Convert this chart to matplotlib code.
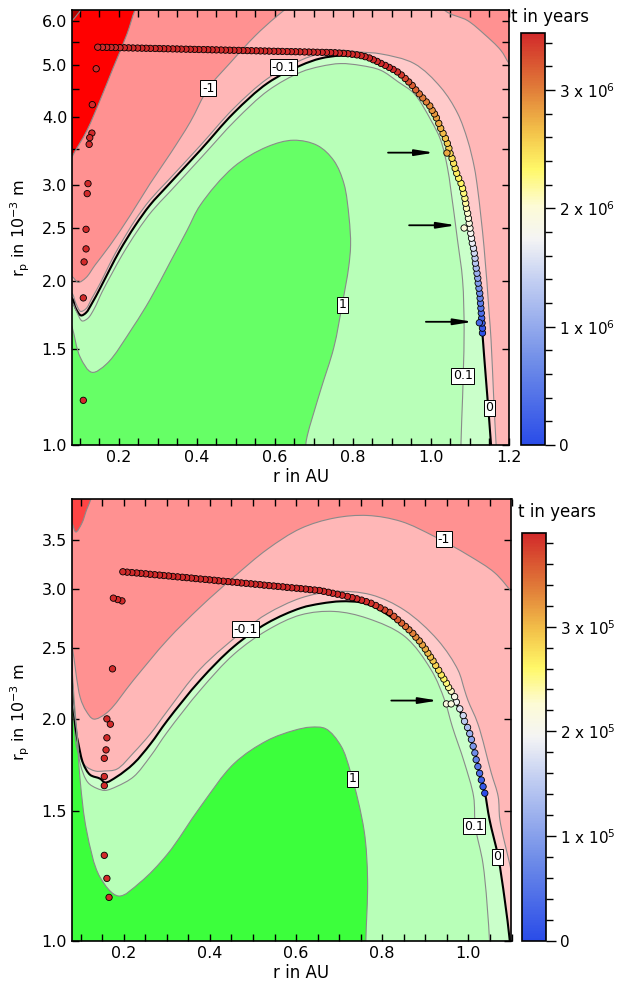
import numpy as np
import matplotlib
matplotlib.use("Agg")
import matplotlib.pyplot as plt
from matplotlib.colors import LinearSegmentedColormap, Normalize
from matplotlib.ticker import FixedLocator, MultipleLocator, NullLocator, FixedFormatter
from matplotlib.path import Path
from matplotlib.patches import PathPatch
import matplotlib.cm as cm

plt.rcParams['font.family'] = ['DejaVu Sans']
plt.rcParams['mathtext.default'] = 'regular'

# ======================= DATA: top panel =======================
top_xlim = (0.08, 1.2)
top_ylim = (1.0, 6.31)
top_tmax = 3.482e6

# contour lines (r in AU, rp in 1e-3 m)
top_cm100_r = [0.062, 0.080, 0.103, 0.113]
top_cm100_rp = [5.90, 6.02, 6.31, 6.54]
top_cm10_r = [0.062, 0.080, 0.118, 0.152, 0.186, 0.221, 0.242, 0.268]
top_cm10_rp = [3.13, 3.38, 3.78, 4.30, 4.94, 5.69, 6.31, 6.84]
top_cm1_r = [0.065, 0.080, 0.096, 0.116, 0.139, 0.178, 0.229, 0.280, 0.332, 0.383, 0.429, 0.486, 0.550,
             0.601, 0.640, 0.691, 0.871, 1.000, 1.033, 1.094, 1.136, 1.179, 1.200, 1.231]
top_cm1_rp = [2.06, 2.04, 1.99, 2.03, 2.14, 2.33, 2.64, 3.02, 3.43, 3.92, 4.52, 5.04, 5.65,
              6.10, 6.42, 6.84, 7.76, 7.20, 6.31, 6.02, 5.69, 5.31, 5.02, 4.67]
top_cm01_r = [0.070, 0.080, 0.090, 0.102, 0.116, 0.131, 0.152, 0.178, 0.203, 0.242, 0.280, 0.324, 0.409,
              0.494, 0.581, 0.666, 0.717, 0.768, 0.820, 0.871, 0.957, 1.025, 1.068, 1.094, 1.111, 1.120,
              1.136, 1.149, 1.154, 1.161, 1.167, 1.169]
top_cm01_rp = [1.91, 1.90, 1.82, 1.76, 1.78, 1.86, 1.98, 2.16, 2.33, 2.59, 2.82, 3.05, 3.55,
               4.15, 4.71, 5.09, 5.24, 5.31, 5.27, 5.23, 5.02, 4.54, 4.07, 3.63, 3.24, 2.94,
               2.31, 1.75, 1.56, 1.21, 1.00, 0.94]
top_c0_r = [0.070, 0.080, 0.090, 0.103, 0.116, 0.131, 0.152, 0.178, 0.203, 0.242, 0.280, 0.324, 0.409,
            0.494, 0.581, 0.666, 0.717, 0.768, 0.820, 0.871, 0.923, 0.974, 1.017, 1.042, 1.059, 1.077,
            1.094, 1.111, 1.126, 1.132, 1.141, 1.154, 1.156]
top_c0_rp = [1.88, 1.86, 1.78, 1.73, 1.75, 1.82, 1.94, 2.11, 2.28, 2.53, 2.76, 2.99, 3.48,
             4.07, 4.62, 4.98, 5.13, 5.19, 5.16, 5.03, 4.79, 4.39, 3.95, 3.58, 3.26, 3.04,
             2.66, 2.25, 1.87, 1.60, 1.32, 1.00, 0.94]
top_cp01_r = [0.070, 0.080, 0.093, 0.106, 0.121, 0.137, 0.157, 0.183, 0.208, 0.247, 0.285, 0.329, 0.414,
              0.499, 0.583, 0.666, 0.717, 0.768, 0.820, 0.871, 0.917, 0.957, 1.000, 1.025, 1.042, 1.051,
              1.068, 1.081, 1.085, 1.083, 1.081, 1.077, 1.077]
top_cp01_rp = [1.85, 1.83, 1.75, 1.69, 1.71, 1.78, 1.91, 2.07, 2.23, 2.47, 2.69, 2.91, 3.39,
               3.95, 4.48, 4.84, 4.96, 5.02, 4.98, 4.88, 4.64, 4.42, 3.95, 3.63, 3.24, 2.94,
               2.38, 2.01, 1.63, 1.37, 1.22, 1.01, 0.94]
top_c1_r = [0.065, 0.080, 0.101, 0.131, 0.169, 0.237, 0.280, 0.332, 0.375, 0.409, 0.494, 0.580, 0.648,
            0.709, 0.751, 0.777, 0.790, 0.794, 0.789, 0.773, 0.751, 0.717, 0.683, 0.679, 0.676]
top_c1_rp = [1.77, 1.65, 1.45, 1.36, 1.41, 1.65, 1.85, 2.17, 2.48, 2.76, 3.24, 3.53, 3.63,
             3.55, 3.33, 3.02, 2.62, 2.33, 2.12, 1.82, 1.51, 1.26, 1.04, 1.00, 0.94]

top_label_text = ['-1', '-0.1', '1', '0.1', '0']
top_label_r = [0.429, 0.622, 0.774, 1.081, 1.149]
top_label_rp = [4.52, 4.94, 1.81, 1.34, 1.17]

# trajectory (t in years)
top_right_r = [1.132, 1.132, 1.131, 1.130, 1.129, 1.128, 1.127, 1.126, 1.125, 1.123, 1.121, 1.120, 1.118,
               1.116, 1.114, 1.113, 1.111, 1.109, 1.106, 1.104, 1.102, 1.100, 1.098, 1.096, 1.094, 1.091,
               1.089, 1.087, 1.084, 1.081, 1.077, 1.071, 1.066, 1.062, 1.058, 1.054, 1.049, 1.046, 1.042,
               1.037, 1.031, 1.025, 1.020,
               1.014, 1.009, 1.003, 0.997, 0.988, 0.979, 0.970, 0.961, 0.952, 0.943, 0.934, 0.924, 0.914,
               0.903, 0.893, 0.883, 0.872, 0.862, 0.852, 0.842, 0.831, 0.821, 0.810, 0.798, 0.787, 0.776,
               0.765, 0.754, 0.743]
top_right_rp = [1.606, 1.639, 1.675, 1.710, 1.747, 1.784, 1.822, 1.861, 1.900, 1.941, 1.983, 2.025, 2.068,
                2.113, 2.158, 2.204, 2.251, 2.299, 2.348, 2.398, 2.449, 2.502, 2.555, 2.609, 2.665, 2.722,
                2.780, 2.839, 2.900, 2.962, 3.025, 3.090, 3.156, 3.223, 3.292, 3.362, 3.434, 3.508, 3.582,
                3.659, 3.737, 3.816, 3.898,
                3.990, 4.058, 4.119, 4.197, 4.268, 4.341, 4.416, 4.491, 4.577, 4.645, 4.713, 4.784, 4.845,
                4.897, 4.939, 4.981, 5.023, 5.066, 5.102, 5.140, 5.169, 5.191, 5.208, 5.222, 5.233, 5.241,
                5.248, 5.255, 5.259]
top_right_t = [0.05e6, 0.13e6, 0.20e6, 0.28e6, 0.36e6, 0.43e6, 0.51e6, 0.59e6, 0.66e6, 0.75e6, 0.86e6,
               0.97e6, 1.08e6, 1.19e6, 1.30e6, 1.39e6, 1.47e6, 1.56e6, 1.65e6, 1.73e6, 1.79e6, 1.86e6,
               1.92e6, 1.99e6, 2.05e6, 2.11e6, 2.18e6, 2.24e6, 2.28e6, 2.31e6, 2.34e6, 2.37e6, 2.40e6,
               2.43e6, 2.45e6, 2.48e6, 2.52e6, 2.56e6, 2.60e6, 2.65e6, 2.69e6, 2.73e6, 2.78e6,
               2.82e6, 2.86e6, 2.88e6, 2.93e6, 2.98e6, 3.03e6, 3.08e6, 3.13e6, 3.19e6, 3.27e6, 3.33e6,
               3.39e6, 3.44e6, 3.47e6, 3.48e6, 3.48e6, 3.48e6, 3.48e6, 3.48e6, 3.48e6, 3.48e6, 3.48e6,
               3.48e6, 3.48e6, 3.48e6, 3.48e6, 3.48e6, 3.48e6, 3.48e6]
top_upper_r = [0.732, 0.721, 0.709, 0.698, 0.687, 0.676, 0.664, 0.653, 0.642, 0.631, 0.619, 0.608, 0.597,
               0.585, 0.574, 0.563, 0.552, 0.540, 0.529, 0.518, 0.507, 0.495, 0.484, 0.473, 0.462, 0.450,
               0.439, 0.428, 0.417, 0.405, 0.394, 0.383, 0.372, 0.360, 0.349, 0.338, 0.326, 0.315, 0.304,
               0.293, 0.281, 0.270, 0.259, 0.248, 0.236, 0.225, 0.214, 0.203, 0.191, 0.180, 0.169, 0.158,
               0.146]
top_upper_rp = [5.262, 5.264, 5.266, 5.269, 5.271, 5.273, 5.276, 5.278, 5.280, 5.282, 5.285, 5.287, 5.289,
                5.292, 5.294, 5.296, 5.298, 5.301, 5.303, 5.305, 5.308, 5.310, 5.312, 5.314, 5.317, 5.319,
                5.321, 5.324, 5.326, 5.328, 5.330, 5.333, 5.335, 5.337, 5.340, 5.342, 5.344, 5.346, 5.349,
                5.351, 5.353, 5.356, 5.358, 5.360, 5.362, 5.365, 5.367, 5.369, 5.372, 5.374, 5.376, 5.378,
                5.380]
top_left_r = [0.142, 0.132, 0.131, 0.1255, 0.124, 0.121, 0.119, 0.116, 0.116, 0.111, 0.109, 0.109]
top_left_rp = [4.911, 4.219, 3.741, 3.669, 3.567, 3.021, 2.896, 2.490, 2.292, 2.169, 1.863, 1.208]
top_saturated_t = 3.48e6

top_mark_r = [1.041, 1.085, 1.124]
top_mark_rp = [3.438, 2.504, 1.677]
top_mark_t = [2.80e6, 1.98e6, 0.30e6]

top_arrow_r0 = [0.890, 0.944, 0.987]
top_arrow_r1 = [1.008, 1.064, 1.107]
top_arrow_rp = [3.444, 2.533, 1.684]

# ======================= DATA: bottom panel =======================
bot_xlim = (0.08, 1.1)
bot_ylim = (1.0, 3.98)
bot_tmax = 3.895e5

bot_cm10_r = [0.070, 0.080, 0.089, 0.103, 0.114, 0.124, 0.129]
bot_cm10_rp = [3.75, 3.69, 3.59, 3.69, 3.85, 3.98, 4.10]
bot_cm1_r = [0.075, 0.080, 0.099, 0.113, 0.130, 0.161, 0.223, 0.301, 0.378, 0.456, 0.533, 0.611, 0.689,
             0.766, 0.844, 0.921, 0.999, 1.061, 1.104, 1.123]
bot_cm1_rp = [2.56, 2.51, 2.14, 2.05, 2.00, 2.04, 2.26, 2.56, 2.84, 3.12, 3.40, 3.63, 3.75,
              3.78, 3.71, 3.54, 3.34, 3.16, 2.96, 2.88]
bot_cm01_r = [0.075, 0.080, 0.085, 0.092, 0.110, 0.134, 0.155, 0.184, 0.223, 0.262, 0.301, 0.378, 0.483,
              0.533, 0.611, 0.688, 0.774, 0.852, 0.929, 0.976, 0.991, 0.999, 1.022, 1.053, 1.069, 1.073,
              1.096, 1.104, 1.123]
bot_cm01_rp = [2.48, 2.19, 1.97, 1.82, 1.73, 1.70, 1.70, 1.71, 1.80, 1.91, 2.05, 2.34, 2.65,
               2.78, 2.92, 2.98, 2.95, 2.81, 2.56, 2.33, 2.19, 2.12, 1.97, 1.69, 1.57, 1.46,
               1.27, 1.21, 1.14]
bot_c0_r = [0.078, 0.082, 0.089, 0.095, 0.106, 0.122, 0.145, 0.157, 0.184, 0.223, 0.262, 0.301, 0.378,
            0.456, 0.533, 0.611, 0.658, 0.704, 0.751, 0.781, 0.813, 0.844, 0.867, 0.890, 0.921, 0.949,
            0.972, 0.998, 1.015, 1.030, 1.038, 1.049, 1.069, 1.084, 1.096, 1.100]
bot_c0_rp = [2.41, 2.12, 1.93, 1.85, 1.74, 1.68, 1.66, 1.64, 1.67, 1.74, 1.85, 1.99, 2.26,
             2.51, 2.70, 2.83, 2.87, 2.89, 2.88, 2.84, 2.77, 2.69, 2.63, 2.54, 2.38, 2.24,
             2.10, 1.94, 1.80, 1.65, 1.59, 1.46, 1.30, 1.14, 1.00, 0.94]
bot_cp01_r = [0.078, 0.082, 0.091, 0.099, 0.117, 0.138, 0.157, 0.184, 0.223, 0.262, 0.301, 0.378, 0.456,
              0.533, 0.611, 0.689, 0.766, 0.852, 0.914, 0.945, 0.963, 0.990, 1.012, 1.016, 1.034, 1.049,
              1.050]
bot_cp01_rp = [2.48, 2.12, 1.93, 1.74, 1.64, 1.61, 1.60, 1.62, 1.67, 1.78, 1.92, 2.19, 2.45,
               2.64, 2.77, 2.80, 2.74, 2.59, 2.33, 2.12, 1.95, 1.75, 1.57, 1.43, 1.27, 1.00,
               0.94]
bot_c1_r = [0.078, 0.085, 0.091, 0.099, 0.114, 0.145, 0.188, 0.238, 0.301, 0.378, 0.456, 0.533, 0.595,
            0.634, 0.669, 0.704, 0.727, 0.758, 0.766, 0.762, 0.762]
bot_c1_rp = [2.48, 2.12, 1.93, 1.65, 1.41, 1.22, 1.15, 1.20, 1.31, 1.52, 1.74, 1.87, 1.93,
             1.95, 1.94, 1.84, 1.69, 1.41, 1.21, 1.00, 0.94]

bot_label_text = ['-0.1', '-1', '1', '0.1', '0']
bot_label_r = [0.483, 0.943, 0.731, 1.013, 1.067]
bot_label_rp = [2.65, 3.51, 1.66, 1.43, 1.30]

bot_right_r = [1.038, 1.034, 1.030, 1.026, 1.022, 1.018, 1.015, 1.011, 1.007, 1.003, 0.998, 0.991, 0.988,
               0.980, 0.972, 0.968, 0.960,
               0.954, 0.949, 0.943, 0.937, 0.931, 0.924, 0.918, 0.912, 0.906, 0.900, 0.893, 0.886, 0.878,
               0.871, 0.862, 0.854, 0.845, 0.836, 0.827, 0.817, 0.806, 0.795, 0.785, 0.774, 0.763, 0.752,
               0.741, 0.730, 0.719, 0.707]
bot_right_rp = [1.586, 1.619, 1.653, 1.688, 1.724, 1.761, 1.799, 1.837, 1.876, 1.911, 1.948, 1.986, 2.022,
                2.065, 2.109, 2.145, 2.182,
                2.208, 2.237, 2.267, 2.296, 2.330, 2.365, 2.399, 2.428, 2.458, 2.490, 2.522, 2.554, 2.584,
                2.615, 2.644, 2.672, 2.700, 2.728, 2.758, 2.792, 2.812, 2.832, 2.853, 2.873, 2.887, 2.901,
                2.913, 2.924, 2.935, 2.946]
bot_right_t = [0.02e5, 0.14e5, 0.27e5, 0.40e5, 0.52e5, 0.65e5, 0.78e5, 0.90e5, 1.05e5, 1.20e5, 1.35e5,
               1.50e5, 1.65e5, 1.80e5, 1.95e5, 2.10e5, 2.30e5,
               2.45e5, 2.55e5, 2.62e5, 2.70e5, 2.78e5, 2.85e5, 2.92e5, 2.98e5, 3.04e5, 3.10e5, 3.16e5,
               3.22e5, 3.28e5, 3.34e5, 3.40e5, 3.46e5, 3.52e5, 3.57e5, 3.62e5, 3.67e5, 3.72e5, 3.76e5,
               3.80e5, 3.84e5, 3.87e5, 3.89e5, 3.89e5, 3.89e5, 3.89e5, 3.89e5]
bot_upper_r = [0.696, 0.685, 0.675, 0.664, 0.654, 0.643, 0.632, 0.622, 0.611, 0.601, 0.590, 0.579, 0.569,
               0.558, 0.548, 0.537, 0.526, 0.516, 0.505, 0.495, 0.484, 0.473, 0.463, 0.452, 0.442, 0.431,
               0.420, 0.410, 0.399, 0.389, 0.378, 0.367, 0.357, 0.346, 0.336, 0.325, 0.314, 0.304, 0.293,
               0.283, 0.272, 0.261, 0.251, 0.240, 0.230, 0.219, 0.208, 0.198]
bot_upper_rp = [2.955, 2.964, 2.973, 2.982, 2.990, 2.994, 2.998, 3.003, 3.007, 3.011, 3.015, 3.019, 3.024,
                3.028, 3.032, 3.036, 3.040, 3.045, 3.049, 3.053, 3.057, 3.061, 3.066, 3.070, 3.074, 3.078,
                3.082, 3.087, 3.091, 3.095, 3.099, 3.103, 3.108, 3.112, 3.116, 3.120, 3.124, 3.129, 3.133,
                3.137, 3.141, 3.145, 3.150, 3.154, 3.158, 3.162, 3.166, 3.170]
bot_left_r = [0.196, 0.186, 0.176, 0.174, 0.161, 0.169, 0.161, 0.159, 0.155, 0.155, 0.155, 0.155, 0.161, 0.166]
bot_left_rp = [2.894, 2.906, 2.919, 2.340, 2.001, 1.968, 1.886, 1.816, 1.769, 1.671, 1.624, 1.306, 1.215, 1.145]
bot_saturated_t = 3.89e5

bot_mark_r = [0.949, 0.960]
bot_mark_rp = [2.097, 2.097]
bot_mark_t = [2.15e5, 2.15e5]

bot_arrow_r0 = [0.821]
bot_arrow_r1 = [0.929]
bot_arrow_rp = [2.119]

# ======================= STYLE =======================
cmap = LinearSegmentedColormap.from_list('tcmap', [
    (0.00, '#2a4ce8'), (0.20, '#6f8de8'), (0.40, '#c3cff2'), (0.50, '#f4f4f4'),
    (0.58, '#fdfbd6'), (0.67, '#fff868'), (0.76, '#f3c34a'), (0.87, '#e07a38'), (1.00, '#d22a2a')])

GRAY = '#8a8a8a'


def smooth_curve(ax, r, rp):
    """Centripetal Catmull-Rom through the read nodes, as cubic Bezier segments (display space)."""
    P = ax.transData.transform(np.column_stack([r, rp]).astype(float))
    ext = np.vstack([2 * P[0] - P[1], P, 2 * P[-1] - P[-2]])
    verts = [P[0]]
    codes = [Path.MOVETO]
    for i in range(len(P) - 1):
        p0, p1, p2, p3 = ext[i], ext[i + 1], ext[i + 2], ext[i + 3]
        d1 = max(np.hypot(*(p1 - p0)), 1e-6) ** 0.5
        d2 = max(np.hypot(*(p2 - p1)), 1e-6) ** 0.5
        d3 = max(np.hypot(*(p3 - p2)), 1e-6) ** 0.5
        b1 = (d1 ** 2 * p2 - d2 ** 2 * p0 + (2 * d1 ** 2 + 3 * d1 * d2 + d2 ** 2) * p1) / (3 * d1 * (d1 + d2))
        b2 = (d3 ** 2 * p1 - d2 ** 2 * p3 + (2 * d3 ** 2 + 3 * d3 * d2 + d2 ** 2) * p2) / (3 * d3 * (d3 + d2))
        verts += [b1, b2, p2]
        codes += [Path.CURVE4] * 3
    data = ax.transData.inverted().transform(np.array(verts))
    return data, codes


def draw_panel(ax, contours, labels, tracks, marks, arrows, xlim, ylim, face):
    ax.set_yscale('log')
    ax.set_xlim(*xlim)
    ax.set_ylim(*ylim)
    ax.set_autoscale_on(False)
    ax.set_facecolor(face)
    curves = []
    for r, rp, mode, fc, lc, lw in contours:
        data, codes = smooth_curve(ax, r, rp)
        curves.append((data, codes, lc, lw))
        if mode == 'below':
            close = [(r[-1], 0.5), (0.0, 0.5), (0.0, rp[0])]
        else:
            close = [(2.0, rp[-1]), (2.0, 0.5), (0.0, 0.5), (0.0, rp[0])]
        v = np.vstack([data, np.array(close), data[:1]])
        c = codes + [Path.LINETO] * len(close) + [Path.CLOSEPOLY]
        ax.add_patch(PathPatch(Path(v, c), facecolor=fc, edgecolor='none', lw=0, zorder=1))
    for data, codes, lc, lw in curves:
        ax.add_patch(PathPatch(Path(data, codes), facecolor='none', edgecolor=lc, lw=lw, zorder=2))
    for txt, r, rp in zip(*labels):
        ax.text(r, rp, txt, fontsize=9, ha='center', va='center', zorder=3,
                bbox=dict(boxstyle='square,pad=0.12', fc='white', ec='black', lw=0.7))
    for r, rp, t, norm in tracks:
        ax.scatter(r, rp, c=t, cmap=cmap, norm=norm, s=21, edgecolors='black',
                   linewidths=0.6, zorder=4)
    for r, rp, t, norm in marks:
        ax.scatter(r, rp, c=t, cmap=cmap, norm=norm, s=21, edgecolors='black',
                   linewidths=0.6, zorder=5)
    for r0, r1, rp in zip(*arrows):
        ax.annotate('', xy=(r1, rp), xytext=(r0, rp), zorder=6,
                    arrowprops=dict(arrowstyle='-|>,head_length=0.8,head_width=0.13',
                                    color='black', lw=1.3, mutation_scale=14,
                                    shrinkA=0, shrinkB=0))
    ax.set_xlim(*xlim)
    ax.set_ylim(*ylim)
    ax.xaxis.set_major_locator(MultipleLocator(0.2))
    ax.xaxis.set_minor_locator(MultipleLocator(0.05))
    ax.tick_params(which='both', direction='in', top=True, right=True, length=5, width=1,
                   labelsize=11.5)
    ax.tick_params(axis='y', which='minor', length=0)
    for s in ax.spines.values():
        s.set_linewidth(1.2)


fig = plt.figure(figsize=(6.22, 9.85), dpi=100)

# ---------- top ----------
ax1 = fig.add_axes([72 / 622, 1 - 445 / 985, 437 / 622, 435.5 / 985])
norm1 = Normalize(0, top_tmax)
top_contours = [
    (top_cm100_r, top_cm100_rp, 'right', '#ff0000', GRAY, 0.8),
    (top_cm10_r, top_cm10_rp, 'right', '#ff9191', GRAY, 0.8),
    (top_cm1_r, top_cm1_rp, 'below', '#ffb7b7', GRAY, 0.8),
    (top_cm01_r, top_cm01_rp, 'below', '#ffcaca', GRAY, 0.8),
    (top_c0_r, top_c0_rp, 'below', '#caffca', 'black', 1.5),
    (top_cp01_r, top_cp01_rp, 'below', '#b8ffb8', GRAY, 0.8),
    (top_c1_r, top_c1_rp, 'below', '#66ff66', GRAY, 0.8),
]
top_tracks = [
    (top_right_r, top_right_rp, top_right_t, norm1),
    (top_upper_r, top_upper_rp, [top_saturated_t] * len(top_upper_r), norm1),
    (top_left_r, top_left_rp, [top_saturated_t] * len(top_left_r), norm1),
]
draw_panel(ax1, top_contours, (top_label_text, top_label_r, top_label_rp), top_tracks,
           [(top_mark_r, top_mark_rp, top_mark_t, norm1)],
           (top_arrow_r0, top_arrow_r1, top_arrow_rp), top_xlim, top_ylim, '#b00000')
top_yt = [1.0, 1.5, 2.0, 2.5, 3.0, 3.5, 4.0, 4.5, 5.0, 5.5, 6.0]
top_ytl = ['1.0', '1.5', '2.0', '2.5', '3.0', '', '4.0', '', '5.0', '', '6.0']
ax1.yaxis.set_major_locator(FixedLocator(top_yt))
ax1.yaxis.set_major_formatter(FixedFormatter(top_ytl))
ax1.yaxis.set_minor_locator(NullLocator())

# ---------- bottom ----------
ax2 = fig.add_axes([72 / 622, 1 - 940.7 / 985, 439.5 / 622, 441.7 / 985])
norm2 = Normalize(0, bot_tmax)
bot_contours = [
    (bot_cm10_r, bot_cm10_rp, 'right', '#ff9191', GRAY, 0.8),
    (bot_cm1_r, bot_cm1_rp, 'below', '#ffb7b7', GRAY, 0.8),
    (bot_cm01_r, bot_cm01_rp, 'below', '#ffcaca', GRAY, 0.8),
    (bot_c0_r, bot_c0_rp, 'below', '#caffca', 'black', 1.5),
    (bot_cp01_r, bot_cp01_rp, 'below', '#b8ffb8', GRAY, 0.8),
    (bot_c1_r, bot_c1_rp, 'below', '#3cff3c', GRAY, 0.8),
]
bot_tracks = [
    (bot_right_r, bot_right_rp, bot_right_t, norm2),
    (bot_upper_r, bot_upper_rp, [bot_saturated_t] * len(bot_upper_r), norm2),
    (bot_left_r, bot_left_rp, [bot_saturated_t] * len(bot_left_r), norm2),
]
draw_panel(ax2, bot_contours, (bot_label_text, bot_label_r, bot_label_rp), bot_tracks,
           [(bot_mark_r, bot_mark_rp, bot_mark_t, norm2)],
           (bot_arrow_r0, bot_arrow_r1, bot_arrow_rp), bot_xlim, bot_ylim, '#ff4545')
bot_yt = [1.0, 1.5, 2.0, 2.5, 3.0, 3.5]
ax2.yaxis.set_major_locator(FixedLocator(bot_yt))
ax2.yaxis.set_major_formatter(FixedFormatter(['1.0', '1.5', '2.0', '2.5', '3.0', '3.5']))
ax2.yaxis.set_minor_locator(NullLocator())


# ---------- colorbars ----------
def add_cbar(rect, norm, ticks, ticklabels, minor_step):
    cax = fig.add_axes(rect)
    sm = cm.ScalarMappable(norm=norm, cmap=cmap)
    cb = fig.colorbar(sm, cax=cax)
    cb.set_ticks(ticks)
    cb.set_ticklabels(ticklabels)
    cax.yaxis.set_minor_locator(MultipleLocator(minor_step))
    cax.tick_params(which='major', direction='out', length=7, width=1, labelsize=11, pad=3)
    cax.tick_params(which='minor', direction='out', length=5, width=1)
    cb.outline.set_linewidth(1.2)
    return cb


add_cbar([521 / 622, 1 - 445 / 985, 24 / 622, 412 / 985], norm1,
         [0, 1e6, 2e6, 3e6], ['0', r'1 x 10$^6$', r'2 x 10$^6$', r'3 x 10$^6$'], 2e5)
add_cbar([522 / 622, 1 - 940.7 / 985, 24 / 622, 407.7 / 985], norm2,
         [0, 1e5, 2e5, 3e5], ['0', r'1 x 10$^5$', r'2 x 10$^5$', r'3 x 10$^5$'], 2e4)

fig.text(510.7 / 622, 1 - 17 / 985, 't in years', fontsize=12, ha='left', va='center')
fig.text(518 / 622, 1 - 511.7 / 985, 't in years', fontsize=12, ha='left', va='center')
fig.text(301 / 622, 1 - 477 / 985, 'r in AU', fontsize=12, ha='center', va='center')
fig.text(301 / 622, 1 - 973 / 985, 'r in AU', fontsize=12, ha='center', va='center')
fig.text(20 / 622, 1 - 228 / 985, r'r$_p$ in 10$^{-3}$ m', fontsize=11.5, rotation=90,
         ha='center', va='center')
fig.text(20 / 622, 1 - 712 / 985, r'r$_p$ in 10$^{-3}$ m', fontsize=11.5, rotation=90,
         ha='center', va='center')

fig.savefig('out.png', dpi=100)
